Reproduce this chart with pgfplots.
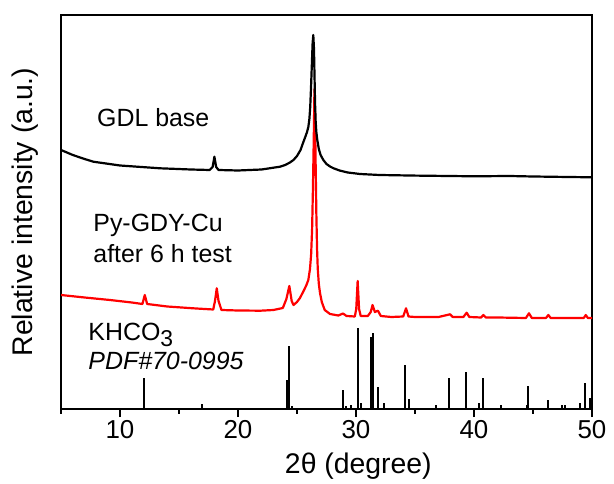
\documentclass[border=0pt]{standalone}
\usepackage{fontspec}
\setmainfont{Liberation Sans}
\usepackage{pgfplots}
\pgfplotsset{compat=1.18}
\usepackage{pgfplotstable}

% GDL base pattern
\pgfplotstableread{
x y
5.0 259
6.0 254
7.0 250
7.74 247.3
10.0 243.5
13.4 240.7
16.0 239.5
17.6 239
17.85 242
18.0 252.3
18.15 242
18.35 239
20.0 238.5
22.0 239.5
23.56 242.3
24.0 244
24.4 246.5
24.7 249
25.0 253
25.3 259
25.5 265.7
25.7 272
25.85 277
25.96 282
26.05 290
26.12 302
26.19 322
26.26 345
26.32 365
26.38 374
26.44 360
26.49 330
26.53 306
26.58 288
26.64 277
26.72 269
26.85 260
27.0 254
27.23 249
27.5 245
27.8 242.5
28.1 240.7
28.6 238.5
29.3 236.5
30.34 235
32.0 234
35.0 233.4
40.0 232.7
43.0 233
45.0 232.5
48.0 232
50.0 231.7
}\gdlbase

% Py-GDY-Cu after 6 h test
\pgfplotstableread{
x y
5.0 114
7.0 111.5
9.15 109
11.0 106.5
11.9 105
12.1 114
12.3 105
14.0 102.5
16.2 100.7
17.9 99.5
18.05 108
18.2 120.7
18.35 108
18.6 99
20.0 98.5
21.9 98.3
23.0 99
23.8 101
24.1 110
24.35 123
24.55 108
24.7 104
25.0 107
25.25 111
25.6 119
25.8 124
25.96 129
26.1 140
26.2 155
26.28 180
26.35 220
26.42 270
26.48 320
26.53 290
26.58 245
26.64 195
26.7 160
26.76 140
26.85 125
26.95 116
27.1 107
27.35 99
27.8 95
28.5 93.5
28.9 95.5
29.2 93
29.9 92.5
30.02 100
30.14 128
30.26 100
30.4 93
31.0 93
31.25 97
31.4 104
31.6 97
31.86 98.3
32.1 93
33.0 92
34.0 92.5
34.24 100.7
34.45 92.5
35.0 92
36.0 92
37.0 92
37.97 94.7
38.2 92
39.1 92
39.38 96.3
39.6 92
40.6 91.5
40.8 94
41.0 91.5
42.0 91.5
44.4 91
44.66 95.7
44.9 91
46.1 91
46.3 94
46.5 91
48.0 91
49.3 91
49.47 94
49.65 91
50.0 91
}\pygdy

% KHCO3 reference lines (PDF#70-0995)
\pgfplotstableread{
x y
12.06 30.7
16.92 4.7
24.13 29
24.30 63
24.60 3
28.87 19
29.15 3
29.55 4
30.14 80.7
30.40 6
31.25 71.7
31.47 75.7
31.86 21.7
32.40 5.7
34.15 44
34.50 9.7
36.80 4
37.90 30.7
39.32 37.3
40.45 5.7
40.73 30.7
42.26 4
44.46 4
44.60 23.3
46.27 9
47.45 4
47.75 4
48.98 5.7
49.43 25.7
49.83 10.7
}\khco

\begin{document}
\begin{tikzpicture}
\useasboundingbox (-61bp,-75bp) rectangle (553bp,409bp);
\begin{axis}[
  at={(0,0)}, anchor=south west,
  scale only axis, width=531bp, height=394bp,
  xmin=5, xmax=50, ymin=0, ymax=394,
  axis line style={line width=1.8bp},
  xtick={10,20,30,40,50},
  minor xtick={5,15,25,35,45},
  ytick=\empty,
  xtick pos=lower,
  tick align=outside,
  major tick length=8bp,
  minor tick length=4.5bp,
  every tick/.style={black, line width=1.8bp},
  /pgf/number format/assume math mode=true,
  ticklabel style={font=\fontsize{26}{26}\selectfont},
  xlabel={2θ (degree)},
  ylabel={Relative intensity (a.u.)},
  label style={font=\fontsize{28.5}{28.5}\selectfont},
  xlabel style={at={(axis description cs:0.56,0)}, anchor=center, yshift=-57bp},
  ylabel style={at={(axis description cs:-0.0678,0.5)}, anchor=center},
  clip=true,
]
\addplot[ycomb, black, line width=2bp] table {\khco};
\addplot[red, line width=2.2bp, line join=round] table {\pygdy};
\addplot[black, line width=2.2bp, line join=round] table {\gdlbase};

\node[anchor=base west, inner sep=0, font=\fontsize{25}{25}\selectfont] at (axis cs:8.05,282.3) {GDL base};
\node[anchor=base west, inner sep=0, font=\fontsize{25}{25}\selectfont] at (axis cs:7.73,177.3) {Py-GDY-Cu};
\node[anchor=base west, inner sep=0, font=\fontsize{25}{25}\selectfont] at (axis cs:7.73,146) {after 6 h test};
\node[anchor=base west, inner sep=0, font=\fontsize{25}{25}\selectfont] at (axis cs:7.31,68.3) {KHCO\raisebox{-6bp}{\fontsize{23}{23}\selectfont 3}};
\node[anchor=base west, inner sep=0, font=\fontsize{25}{25}\selectfont\itshape] at (axis cs:7.31,39.7) {PDF\#70-0995};
\end{axis}
\end{tikzpicture}
\end{document}
